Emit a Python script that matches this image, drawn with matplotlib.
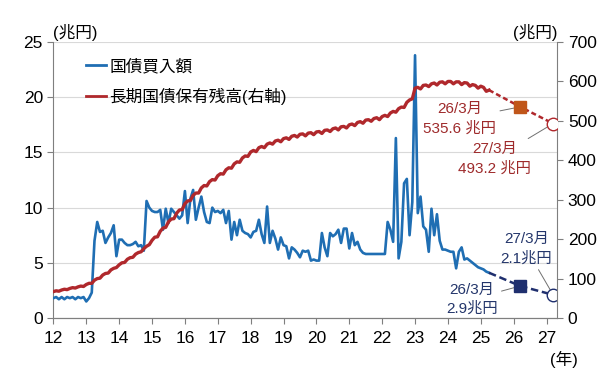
import numpy as np
import matplotlib
matplotlib.use('Agg')
import matplotlib.pyplot as plt
from matplotlib.lines import Line2D

plt.rcParams['font.family'] = ['Liberation Sans', 'Noto Sans CJK JP', 'DejaVu Sans']

# 国債買入額 (兆円, 月次, 2012年1月〜2025年4月)
buy = [1.8, 1.9, 1.7, 1.9, 1.7, 1.9, 1.8, 1.9, 1.7, 1.9, 1.8, 1.9,
       1.5, 1.8, 2.3, 7.0, 8.7, 7.8, 7.9, 6.8, 7.3, 7.7, 8.4, 5.6,
       7.1, 7.1, 6.8, 6.6, 6.6, 6.7, 6.9, 6.5, 6.6, 6.1, 10.6, 10.0,
       9.7, 9.6, 9.6, 9.8, 8.0, 9.9, 8.6, 9.9, 9.6, 9.3, 9.0, 9.3,
       11.5, 8.6, 10.8, 11.6, 8.9, 10.0, 11.0, 9.6, 8.7, 8.6, 10.0, 9.6,
       9.7, 9.5, 9.8, 8.6, 9.7, 7.1, 8.7, 7.5, 8.9, 7.9, 7.7, 7.6,
       7.3, 7.8, 7.9, 8.9, 7.6, 6.8, 10.1, 6.8, 7.9, 7.2, 6.2, 7.3,
       6.6, 6.5, 5.4, 6.4, 6.2, 5.9, 5.5, 6.1, 6.0, 6.1, 5.2, 5.3,
       5.2, 5.2, 7.7, 6.4, 5.6, 7.7, 7.4, 7.6, 8.0, 6.8, 8.1, 8.1,
       6.3, 7.7, 6.6, 6.9, 6.2, 5.9, 5.8, 5.8, 5.8, 5.8, 5.8, 5.8,
       5.8, 5.8, 8.7, 8.0, 6.9, 16.3, 5.4, 6.9, 12.2, 12.6, 7.5, 10.5,
       23.8, 9.5, 11.0, 8.3, 8.0, 6.0, 9.9, 7.5, 9.4, 7.0, 6.2, 6.2,
       6.1, 6.0, 6.0, 4.5, 6.0, 6.4, 5.3, 5.4, 5.2, 5.0, 4.8, 4.6,
       4.5, 4.4, 4.2, 4.1]

# 長期国債保有残高 (兆円, 右軸)
hold = [67, 69, 68, 71, 73, 72, 75, 77, 76, 79, 81, 80,
        85, 88, 88, 96, 100, 101, 109, 113, 114, 122, 126, 128,
        135, 140, 141, 149, 153, 154, 162, 166, 168, 176, 182, 186,
        197, 205, 206, 220, 228, 230, 244, 251, 252, 266, 274, 275,
        290, 297, 298, 311, 317, 317, 330, 336, 335, 346, 351, 350,
        361, 366, 365, 376, 381, 380, 391, 396, 395, 406, 411, 410,
        421, 425, 422, 432, 435, 432, 441, 444, 441, 449, 451, 447,
        455, 457, 453, 461, 463, 459, 466, 467, 462, 469, 470, 465,
        472, 473, 468, 476, 477, 473, 480, 482, 477, 485, 486, 482,
        490, 492, 488, 496, 498, 494, 502, 503, 499, 506, 508, 503,
        511, 514, 511, 520, 524, 522, 531, 535, 534, 547, 553, 556,
        583, 585, 581, 590, 591, 587, 594, 596, 591, 598, 599, 594,
        600, 600, 594, 599, 599, 592, 597, 596, 588, 592, 590, 583,
        588, 585, 575, 578]

# 見通し (26/3月, 27/3月)
plan_x = [26.2, 27.2]
plan_buy = [2.9, 2.1]
plan_hold = [535.6, 493.2]

start_year = 12
x = start_year + np.arange(len(buy)) / 12

blue = '#1f6eb3'
red = '#b0282c'
navy = '#1f2f6e'
red_txt = '#9e2a2b'
navy_txt = '#24366b'

fig = plt.figure(figsize=(6, 3.82), dpi=100)
ax = fig.add_axes([0.089, 0.1675, 0.84, 0.7225])
ax2 = ax.twinx()

# 左軸: 国債買入額
ax.plot(x, buy, color=blue, lw=1.9, zorder=3)
ax.plot([x[-1]] + plan_x, [buy[-1]] + plan_buy, color=navy, lw=1.8, ls=(0, (3, 1.5)), zorder=3)
ax.plot(plan_x[0], plan_buy[0], marker='s', ms=8, color=navy, ls='none', zorder=4)
ax.plot(plan_x[1], plan_buy[1], marker='o', ms=9, mfc='white', mec=navy, mew=1, ls='none', zorder=4)

# 右軸: 保有残高
ax2.plot(x, hold, color=red, lw=2.4, zorder=3)
ax2.plot([x[-1]] + plan_x, [hold[-1]] + plan_hold, color=red, lw=1.8, ls=(0, (2, 1.2)), zorder=3)
ax2.plot(plan_x[0], plan_hold[0], marker='s', ms=8, color='#c0561a', ls='none', zorder=4)
ax2.plot(plan_x[1], plan_hold[1], marker='o', ms=9, mfc='white', mec=red, mew=1, ls='none', zorder=4)

ax.set_xlim(12, 27.33)
ax.set_ylim(0, 25)
ax2.set_ylim(0, 700)
ax.set_xticks(range(12, 28))
ax.set_yticks(range(0, 26, 5))
ax2.set_yticks(range(0, 701, 100))

ax.yaxis.grid(True, color='#d9d9d9', lw=0.8)
ax.set_axisbelow(True)

for a in (ax, ax2):
    for s in a.spines.values():
        s.set_color('#7f7f7f')
    a.spines['top'].set_visible(False)
    a.tick_params(colors='#7f7f7f', labelcolor='black', labelsize=12.5, length=4)
ax2.spines['left'].set_visible(False)
ax.spines['right'].set_visible(False)
ax.tick_params(axis='x', pad=5)

# 凡例
handles = [Line2D([], [], color=blue, lw=2), Line2D([], [], color=red, lw=2)]
ax.legend(handles, ['国債買入額', '長期国債保有残高(右軸)'], loc='upper left',
          bbox_to_anchor=(0.035, 0.995), frameon=False, fontsize=12,
          handlelength=1.2, handletextpad=0.2, labelspacing=0.8)

# 単位
fig.text(0.088, 0.914, '(兆円)', fontsize=12, ha='left', va='center')
fig.text(0.93, 0.914, '(兆円)', fontsize=12, ha='right', va='center')
fig.text(0.963, 0.058, '(年)', fontsize=12, ha='right', va='center')

# 注記
ann = dict(fontsize=11, ha='center', va='center', linespacing=1.45)
arrow = dict(arrowstyle='-', color='#707070', lw=0.7, shrinkA=1, shrinkB=4)
ax2.annotate('26/3月\n535.6 兆円', xy=(plan_x[0], plan_hold[0]), xytext=(24.35, 505),
             color=red_txt, arrowprops=arrow, **ann)
ax2.annotate('27/3月\n493.2 兆円', xy=(plan_x[1], plan_hold[1]), xytext=(25.42, 404),
             color=red_txt, arrowprops=arrow, **ann)
ax.annotate('27/3月\n2.1兆円', xy=(plan_x[1], plan_buy[1]), xytext=(26.39, 6.25),
            color=navy_txt, arrowprops=arrow, **ann)
ax.annotate('26/3月\n2.9兆円', xy=(plan_x[0], plan_buy[0]), xytext=(24.72, 1.7),
            color=navy_txt, arrowprops=arrow, **ann)

fig.savefig('out.png', dpi=100)
